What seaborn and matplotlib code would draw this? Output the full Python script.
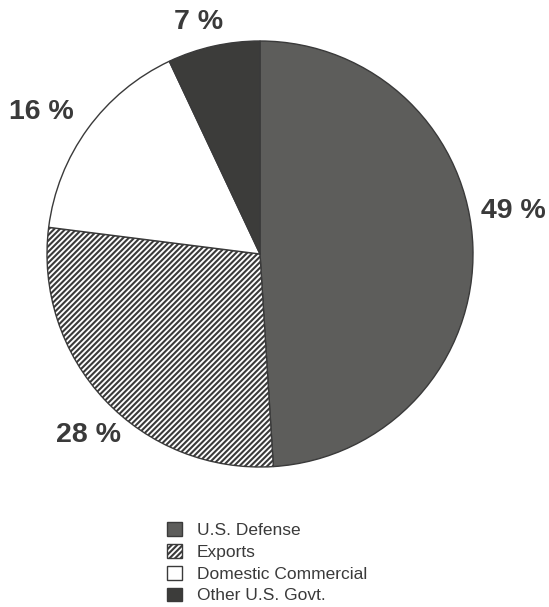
import numpy as np
import matplotlib
matplotlib.use("Agg")
import matplotlib.pyplot as plt
import seaborn as sns

# Share of sales by customer segment (percent)
segments = ["U.S. Defense", "Exports", "Domestic Commercial", "Other U.S. Govt."]
shares = [49, 28, 16, 7]
label_text = [f"{v} %" for v in shares]

# Fill styles per segment
fills = ["#5d5d5b", "#ffffff", "#ffffff", "#3c3c3a"]
hatches = ["", "//////", "", ""]

# Label placement: radial distance (in radii) and angular nudge (degrees)
label_radius = [1.205, 1.17, 1.225, 1.125]
label_nudge = [7.8, 3.3, 2.9, 2.2]

sns.set_theme(style="white")
plt.rcParams["font.family"] = ["Liberation Sans", "DejaVu Sans"]
plt.rcParams["hatch.linewidth"] = 1.5

W, H, DPI = 549, 607, 100
fig = plt.figure(figsize=(W / DPI, H / DPI), dpi=DPI, facecolor="white")

# Pie centred at (260, 254) px with a radius of 213 px
cx, cy, r = 260, 254, 213
ax = fig.add_axes([(cx - r) / W, (H - cy - r) / H, 2 * r / W, 2 * r / H])

wedges, _ = ax.pie(
    shares,
    colors=fills,
    startangle=90,
    counterclock=False,
    radius=1,
    wedgeprops=dict(edgecolor="#3a3a3a", linewidth=1.0),
)
for w, h in zip(wedges, hatches):
    if h:
        w.set_hatch(h)

ax.set_xlim(-1, 1)
ax.set_ylim(-1, 1)
ax.set_aspect("equal")
ax.axis("off")

for w, txt, rr, nudge in zip(wedges, label_text, label_radius, label_nudge):
    mid = np.deg2rad((w.theta1 + w.theta2) / 2 + nudge)
    ax.text(rr * np.cos(mid), rr * np.sin(mid), txt,
            ha="center", va="center", fontsize=20.5, fontweight="bold",
            color="#3a3a3a", clip_on=False)

leg = fig.legend(
    wedges, segments,
    loc="upper left",
    bbox_to_anchor=(167 / W, 1 - 522 / H),
    frameon=False,
    fontsize=12.5,
    handlelength=0.85,
    handleheight=0.85,
    handletextpad=0.85,
    labelspacing=0.34,
    borderpad=0,
    borderaxespad=0,
)
for t in leg.get_texts():
    t.set_color("#3a3a3a")

fig.savefig("out.png", dpi=DPI, facecolor="white")
